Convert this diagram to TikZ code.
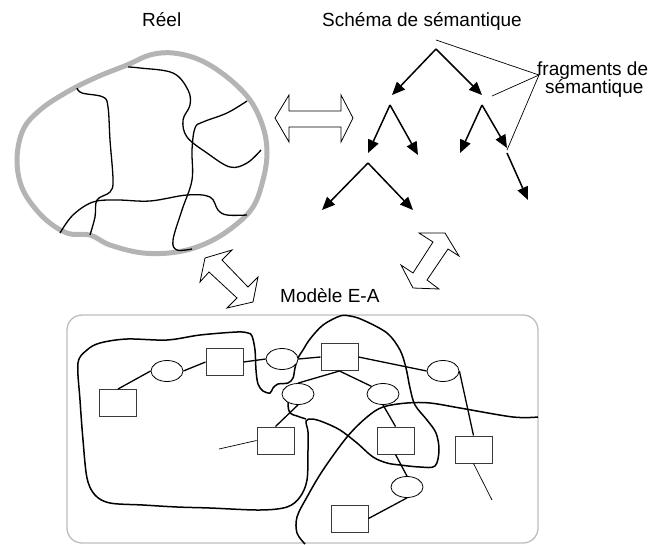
\documentclass[tikz,border=0pt]{standalone}
\usepackage{fontspec}
\setmainfont{Liberation Sans}
\usetikzlibrary{arrows.meta,shapes.geometric}
\definecolor{realgray}{HTML}{B4B4B4}
\definecolor{boxgray}{HTML}{BDBDBD}
\definecolor{rectgray}{HTML}{3A3A3A}
\begin{document}
\begin{tikzpicture}[x=1pt,y=-1pt,
  lbl/.style={font=\fontsize{19}{18}\selectfont, inner sep=0pt, anchor=base west},
  realc/.style={draw=realgray, line width=5pt},
  realin/.style={line width=1.3pt},
  tarr/.style={line width=1.5pt, -{Triangle[length=13pt,width=11pt]}},
  thinl/.style={line width=0.7pt},
  darrow/.style={draw=black, line width=0.8pt, fill=white, line join=miter},
  blob/.style={line width=1.5pt},
  conn/.style={line width=1.3pt},
  ent/.style={draw=rectgray, line width=1pt, fill=white, rectangle, minimum width=37pt, minimum height=27pt, inner sep=0pt},
  rel/.style={draw=black, line width=0.8pt, fill=white, ellipse, minimum width=32pt, minimum height=21pt, inner sep=0pt},
]
\useasboundingbox (0,0) rectangle (650,544);

% ---- texts
\node[lbl] (treel) at (142,26) {Réel};
\node[lbl] (tschema) at (322,26) {Schéma de sémantique};
\node[lbl] (tfrag1) at (537,75) {fragments de};
\node[lbl] (tfrag2) at (545,93) {sémantique};
\node[lbl] (tmodele) at (280,302) {Modèle E-A};

% ---- Réel
\draw[realc] plot[smooth cycle, tension=0.6] coordinates {
 (127,65) (150,55) (173,53) (200,60) (227,77) (250,100) (263,127) (267,153)
 (263,180) (253,207) (233,227) (207,243) (177,252) (143,253) (110,245) (90,235)
 (67,233) (43,217) (23,190) (17,160) (23,130) (40,110) (67,92) (97,77)};
\draw[realin] plot[smooth, tension=0.6] coordinates {
 (77,88) (82,93) (103,97) (108,107) (110,140) (113,180) (110,192) (97,200) (95,217) (90,235)};
\draw[realin] plot[smooth, tension=0.6] coordinates {
 (60,233) (73,215) (93,202) (117,200) (150,201) (187,195) (210,197) (218,210) (227,215) (247,215)};
\draw[realin] plot[smooth, tension=0.6] coordinates {
 (128,67) (140,68) (173,73) (188,90) (190,105) (183,120) (187,137) (207,153) (230,167) (247,163) (261,150)};
\draw[realin] plot[smooth, tension=0.6] coordinates {
 (247,101) (227,113) (203,122) (195,128) (192,150) (192,180) (182,210) (173,240) (177,250) (192,249)};

% ---- hollow double arrows
\draw[darrow] (275,118) -- (289,95) -- (289,111) -- (341,111) -- (341,95) -- (353,118)
  -- (341,142) -- (341,127) -- (289,127) -- (289,142) -- cycle;
\draw[darrow] (205,258) -- (232,250) -- (222,260) -- (248,287) -- (258,277) -- (253,302)
  -- (227,308) -- (237,298) -- (209,272) -- (200,282) -- cycle;
\draw[darrow] (445,233) -- (459,256) -- (448,249) -- (427,280) -- (439,289) -- (413,288)
  -- (401,265) -- (413,273) -- (433,242) -- (419,233) -- cycle;

% ---- schema tree
\coordinate (r0) at (436,49);
\coordinate (a1) at (392,95);
\coordinate (a2) at (482,95);
\coordinate (l0) at (390,105);
\coordinate (l1) at (368,153);
\coordinate (l2) at (418,155);
\coordinate (q0) at (482,105);
\coordinate (q1) at (460,153);
\coordinate (q2) at (507,148);
\coordinate (m0) at (368,163);
\coordinate (m1) at (322,210);
\coordinate (m2) at (413,210);
\coordinate (s0) at (507,153);
\coordinate (s1) at (528,200);
\draw[tarr] (r0) -- (a1);
\draw[tarr] (r0) -- (a2);
\draw[tarr] (l0) -- (l1);
\draw[tarr] (l0) -- (l2);
\draw[tarr] (q0) -- (q1);
\draw[tarr] (q0) -- (q2);
\draw[tarr] (m0) -- (m1);
\draw[tarr] (m0) -- (m2);
\draw[tarr] (s0) -- (s1);

\coordinate (fp) at (539,75);
\coordinate (f1) at (436,40);
\coordinate (f2) at (492,96);
\coordinate (f3) at (507,150);
\draw[thinl] (fp) -- (f1);
\draw[thinl] (fp) -- (f2);
\draw[thinl] (fp) -- (f3);

% ---- Modèle E-A box
\draw[draw=boxgray, line width=1.3pt, rounded corners=15pt] (67,315) rectangle (538,543);

% ---- blobs
\draw[blob] plot[smooth cycle, tension=0.55] coordinates {
 (252,336) (255,350) (256,370) (258,384) (263,391) (270,393) (273,388) (278,384)
 (288,383) (293,378) (295,368) (298,358) (303,350) (310,339) (323,325) (340,316)
 (350,316) (363,320) (387,333) (400,350) (406,368) (410,388) (415,405) (427,420)
 (436,433) (439,450) (435,466) (420,467) (400,465) (387,463) (373,457) (357,443)
 (340,430) (323,422) (312,419) (306,421) (308,432) (308,450) (307,480) (300,497)
 (287,507) (260,510) (210,508) (177,507) (143,505) (110,503) (95,495) (87,478)
 (83,440) (80,400) (78,363) (87,350) (100,343) (127,339) (167,340) (200,335)
 (237,332) (248,333)};
\draw[blob] plot[smooth, tension=0.55] coordinates {
 (289,395) (288,405) (290,413) (297,416) (306,419)};
\draw[blob] plot[smooth, tension=0.55] coordinates {
 (305,544) (297,533) (297,517) (307,497) (323,470) (347,437) (367,417) (383,407)
 (407,403) (430,403) (460,408) (513,417) (538,417)};

% ---- nodes
\node[ent] (R1) at (118,403) {};
\node[ent] (R2) at (224.5,362) {};
\node[ent] (R3) at (339.5,357) {};
\node[ent] (R4) at (275.5,440.5) {};
\node[ent] (R5) at (395.5,440.5) {};
\node[ent] (R6) at (473.5,449.5) {};
\node[ent] (R7) at (349.5,518.5) {};
\node[rel] (E1) at (167,371) {};
\node[rel] (E2) at (282,359) {};
\node[rel] (E3) at (298,394) {};
\node[rel] (E4) at (383,394) {};
\node[rel] (E5) at (443,371) {};
\node[rel] (E6) at (407,487) {};
\coordinate (x4) at (219,449);
\coordinate (x6) at (492,500);

% ---- connectors
\draw[conn] (R1.north) -- (E1.west);
\draw[conn] (E1.east) -- (R2.west);
\draw[conn] (R2.east) -- (E2.west);
\draw[conn] (E2.east) -- (R3.west);
\draw[conn] (R3.south) -- (E3.north);
\draw[conn] (R3.south) -- (E4.north west);
\draw[conn] (R3.east) -- (E5.west);
\draw[conn] (E3.south) -- (R4.north);
\draw[thinl] (R4.west) -- (x4);
\draw[conn] (E4.south) -- (R5.north);
\draw[conn] (R5.south) -- (E6.north);
\draw[conn] (E6.south) -- (R7.east);
\draw[conn] (E5.east) -- (R6.north);
\draw[thinl] (R6.south) -- (x6);
\end{tikzpicture}
\end{document}
